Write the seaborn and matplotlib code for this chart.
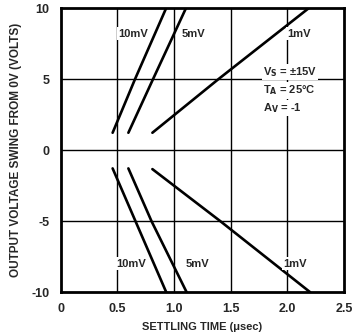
import matplotlib
matplotlib.use("Agg")
import matplotlib.pyplot as plt
import seaborn as sns
import pandas as pd

# Data
series_names = ["10mV+", "5mV+", "1mV+", "10mV-", "5mV-", "1mV-"]
x_10p = [0.457, 0.655, 0.93]
y_10p = [1.22, 5.0, 10.0]
x_5p = [0.596, 0.814, 1.105]
y_5p = [1.22, 5.0, 10.0]
x_1p = [0.808, 1.392, 2.19]
y_1p = [1.22, 5.0, 10.0]
x_10n = [0.457, 0.93]
y_10n = [-1.29, -10.0]
x_5n = [0.596, 0.80, 1.11]
y_5n = [-1.29, -5.0, -10.0]
x_1n = [0.808, 1.407, 2.20]
y_1n = [-1.34, -5.0, -10.0]

xs = [x_10p, x_5p, x_1p, x_10n, x_5n, x_1n]
ys = [y_10p, y_5p, y_1p, y_10n, y_5n, y_1n]

x_ticks = [0, 0.5, 1.0, 1.5, 2.0, 2.5]
x_ticklabels = ["0", "0.5", "1.0", "1.5", "2.0", "2.5"]
y_ticks = [-10, -5, 0, 5, 10]
y_ticklabels = ["-10", "-5", "0", "5", "10"]

curve_labels = ["10mV", "5mV", "1mV", "10mV", "5mV", "1mV"]
label_x = [0.505, 1.07, 2.0, 0.49, 1.10, 1.96]
label_y = [8.2, 8.2, 8.2, -8.0, -8.0, -8.0]

rows = []
for name, xv, yv in zip(series_names, xs, ys):
    for a, b in zip(xv, yv):
        rows.append({"series": name, "x": a, "y": b})
df = pd.DataFrame(rows)

sns.set_style("white")
plt.rcParams["font.family"] = ["Liberation Sans", "DejaVu Sans"]

fig = plt.figure(figsize=(3.58, 3.35), dpi=100)
ax = fig.add_axes([0.170, 0.128, 0.791, 0.848])

# grid
for gx in [0.5, 1.0, 1.5, 2.0]:
    ax.axvline(gx, color="black", lw=1.0, zorder=1)
for gy in [-5, 0, 5]:
    ax.axhline(gy, color="black", lw=1.0, zorder=1)

sns.lineplot(data=df, x="x", y="y", units="series", estimator=None,
             color="black", lw=1.9, sort=False, ax=ax, zorder=3)

bb = dict(facecolor="white", edgecolor="none", pad=1.0)
for t, lx, ly in zip(curve_labels, label_x, label_y):
    ax.text(lx, ly, t, fontsize=8, fontweight="bold", ha="left", va="center",
            zorder=4, bbox=bb)

ax.text(1.785, 5.5, r"V$_\mathbf{S}$ = ±15V", fontsize=8, fontweight="bold",
        ha="left", va="center", zorder=4, bbox=bb)
ax.text(1.785, 4.2, r"T$_\mathbf{A}$ = 25°C", fontsize=8, fontweight="bold",
        ha="left", va="center", zorder=4, bbox=bb)
ax.text(1.785, 2.95, r"A$_\mathbf{V}$ = -1", fontsize=8, fontweight="bold",
        ha="left", va="center", zorder=4, bbox=bb)

ax.set_xlim(0, 2.5)
ax.set_ylim(-10, 10)
ax.set_xticks(x_ticks)
ax.set_xticklabels(x_ticklabels, fontsize=9, fontweight="bold")
ax.set_yticks(y_ticks)
ax.set_yticklabels(y_ticklabels, fontsize=9, fontweight="bold")
ax.tick_params(length=0, pad=8)
ax.set_xlabel("SETTLING TIME (μsec)", fontsize=8, fontweight="bold", labelpad=5)
ax.set_ylabel("OUTPUT VOLTAGE SWING FROM 0V (VOLTS)", fontsize=8.5,
              fontweight="bold", labelpad=7)
for s in ax.spines.values():
    s.set_visible(True)
    s.set_color("black")
    s.set_linewidth(2.0)

fig.savefig("out.png", dpi=100)
